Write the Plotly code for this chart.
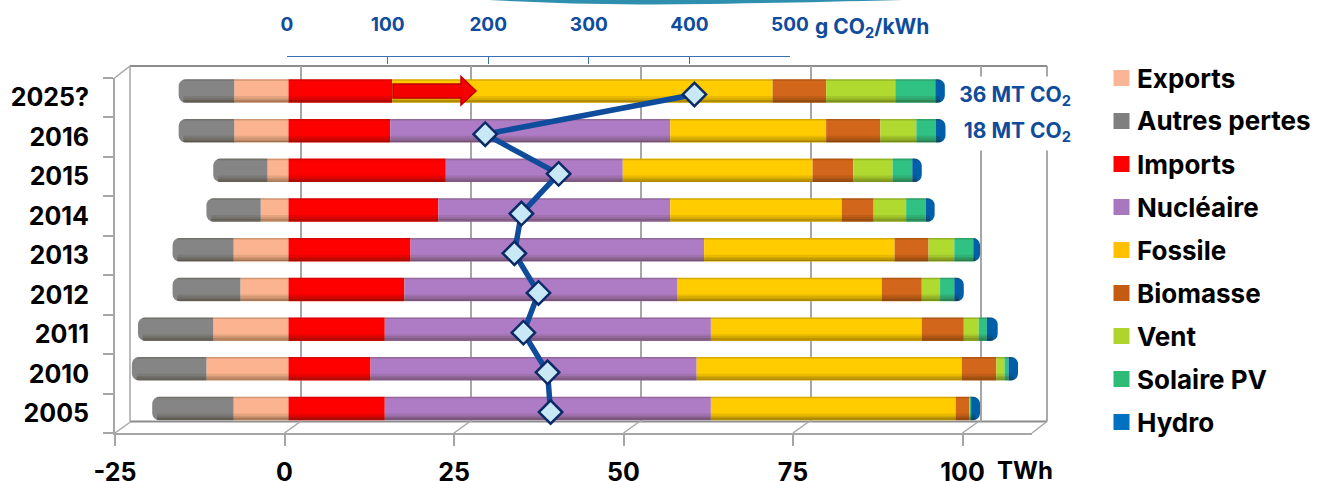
import plotly.graph_objects as go

W, H = 1317, 481
years = ["2005", "2010", "2011", "2012", "2013", "2014", "2015", "2016", "2025?"]
exports = [8.1, 12.1, 11.1, 7.1, 8.1, 4.1, 3.1, 8.0, 8.0]
autres_pertes = [12.0, 11.0, 11.1, 10.0, 9.0, 8.0, 8.0, 8.2, 8.2]
imports_ = [14.2, 12.1, 14.2, 17.1, 18.0, 22.1, 23.2, 15.0, 15.3]
nucleaire = [48.1, 48.1, 48.1, 40.2, 43.3, 34.2, 26.1, 41.3, 0.0]
fossile = [36.1, 39.1, 31.1, 30.2, 28.1, 25.3, 28.0, 23.0, 56.1]
biomasse = [2.0, 5.1, 6.2, 5.9, 5.0, 4.7, 6.0, 8.0, 7.9]
vent = [0.2, 1.2, 2.2, 2.7, 3.8, 4.8, 5.8, 5.3, 10.2]
solaire = [0.1, 0.6, 1.2, 2.1, 2.8, 2.9, 2.9, 2.9, 5.9]
hydro = [1.3, 1.4, 1.6, 1.4, 1.0, 1.3, 1.4, 1.4, 1.4]
co2 = [262, 259, 235, 250, 226, 233, 270, 197, 405]
twh_ticks = [-25, 0, 25, 50, 75, 100]
twh_labels = ["-25", "0", "25", "50", "75", "100"]
co2_ticks = [0, 100, 200, 300, 400, 500]
legend_names = ["Exports", "Autres pertes", "Imports", "Nucléaire", "Fossile", "Biomasse", "Vent", "Solaire PV", "Hydro"]
legend_colors = ["#F9B596", "#7F7F7F", "#FF0000", "#A778BE", "#FFC000", "#C55A11", "#AFD42B", "#2EBB78", "#0070C0"]
bar_colors = ["#FBB48F", "#858585", "#FF0000", "#AE7CC4", "#FFCC00", "#D2661A", "#B0DA30", "#30C283", "#005FA8"]

FONT = "Inter"
BLUE = "#0F4C9C"
GRAY = "#A6A6A6"
X_RANGE = [-25, 110.25]


def fx(p):
    return p / W


def fy(p):
    return 1 - p / H


def dom_x(a, b):
    return [fx(a), fx(b)]


def dom_y(top, bottom):
    return [fy(bottom), fy(top)]


fig = go.Figure()
pos = list(range(len(years)))

# back wall grid subplot (first so it lies under the bars)
fig.add_trace(go.Scatter(x=[0], y=[0], mode="markers", marker=dict(opacity=0), xaxis="x", yaxis="y",
                         showlegend=False, hoverinfo="skip"))

# bars
series = [("Exports", [-v for v in exports]), ("Autres pertes", [-v for v in autres_pertes]),
          ("Imports", imports_), ("Nucléaire", nucleaire), ("Fossile", fossile),
          ("Biomasse", biomasse), ("Vent", vent), ("Solaire PV", solaire), ("Hydro", hydro)]
for (name, vals), col in zip(series, bar_colors):
    fig.add_trace(go.Bar(y=pos, x=vals, name=name, orientation="h", width=0.592, marker=dict(color=col, line_width=0),
                         xaxis="x2", yaxis="y2", showlegend=False))

# cylinder shading along each bar, from the bar totals
lefts = [-(a + b) for a, b in zip(exports, autres_pertes)]
rights = [sum(t) for t in zip(imports_, nucleaire, fossile, biomasse, vent, solaire, hydro)]
for off, lw, alpha in [(0.276, 1.5, 0.2), (-0.276, 1.2, 0.38), (-0.245, 1.5, 0.3), (-0.205, 2.0, 0.2), (-0.155, 2.2, 0.1)]:
    xs, ys = [], []
    for p, l, r in zip(pos, lefts, rights):
        xs += [l + 0.7, r - 0.7, None]
        ys += [p + off, p + off, None]
    fig.add_trace(go.Scatter(x=xs, y=ys, mode="lines", line=dict(color=f"rgba(40,30,0,{alpha})", width=lw),
                             xaxis="x2", yaxis="y2", showlegend=False, hoverinfo="skip"))

# CO2 intensity line
fig.add_trace(go.Scatter(x=co2, y=pos, mode="lines+markers", line=dict(color="#0F4C9C", width=5.5),
                         marker=dict(symbol="diamond", size=18, color="#C9E8F6", line=dict(color="#0B2A66", width=2.5)),
                         xaxis="x3", yaxis="y3", showlegend=False))

# front floor axes
fig.add_trace(go.Scatter(x=[0] * len(years), y=years, mode="markers", marker=dict(opacity=0), xaxis="x4", yaxis="y4",
                         showlegend=False, hoverinfo="skip"))

tickf = dict(family=FONT, size=25, color="#000000", weight=700)
fig.update_layout(
    template="none",
    width=W, height=H, autosize=False, margin=dict(l=0, r=0, t=0, b=0, pad=0),
    paper_bgcolor="white", plot_bgcolor="rgba(0,0,0,0)", barmode="relative", barcornerradius=7,
    hovermode=False, showlegend=False,
    xaxis=dict(domain=dom_x(131, 1050.4), range=X_RANGE, anchor="y", tickvals=twh_ticks, showgrid=True, gridcolor=GRAY,
               gridwidth=1.5, showticklabels=False, ticks="", zeroline=False, showline=False, automargin=False),
    yaxis=dict(domain=dom_y(66, 421.5), range=[0, 1], anchor="x", visible=False, automargin=False),
    xaxis2=dict(domain=dom_x(119, 1036), range=X_RANGE, anchor="y2", visible=False, automargin=False),
    yaxis2=dict(domain=dom_y(71.15, 428.35), range=[-0.5, 8.5], anchor="x2", visible=False, automargin=False),
    xaxis3=dict(domain=dom_x(287, 790), range=[0, 500], anchor="free", position=fy(55.5), side="top", tickvals=co2_ticks,
                showgrid=False, zeroline=False, showline=True, linecolor="#3A6FB5", linewidth=1.2, ticks="inside", ticklen=7,
                tickcolor="#3A6FB5", tickwidth=1.2, ticklabelstandoff=17, automargin=False,
                tickfont=dict(family=FONT, size=19, color=BLUE, weight=700)),
    yaxis3=dict(domain=dom_y(74.65, 431.85), range=[-0.5, 8.5], anchor="x3", visible=False, automargin=False),
    xaxis4=dict(domain=dom_x(115, 1032), range=X_RANGE, anchor="y4", tickvals=twh_ticks, ticktext=twh_labels, showgrid=False,
                zeroline=False, showline=True, linecolor=GRAY, linewidth=2, ticks="outside", ticklen=11, tickcolor=GRAY,
                tickwidth=1.5, ticklabelstandoff=5, tickfont=tickf, automargin=False),
    yaxis4=dict(domain=dom_y(78, 433), type="category", categoryorder="array", categoryarray=years, anchor="x4",
                range=[-0.5, 8.5], showgrid=False, zeroline=False, showline=True, linecolor=GRAY, linewidth=2,
                ticks="outside", ticklen=10, tickson="boundaries", tickcolor=GRAY, tickwidth=1.5, ticklabelstandoff=19,
                tickfont=tickf, automargin=False),
)

shapes = []
def line(x0, y0, x1, y1, color=GRAY, w=1.5):
    shapes.append(dict(type="line", xref="paper", yref="paper", x0=fx(x0), y0=fy(y0), x1=fx(x1), y1=fy(y1),
                       line=dict(color=color, width=w), layer="below"))

# wall frame
line(130, 66, 1047, 66, "#8C8C8C", 2)
line(130, 66, 130, 421.5, GRAY, 1.5)
line(1047, 66, 1047, 421.5, "#8C8C8C", 1.5)
line(130, 421.5, 1047, 421.5, "#8C8C8C", 2)
line(114.5, 78, 130, 66)
line(1032, 433, 1047, 421.5)
for t in [-25] + twh_ticks[1:]:
    front = 115 + (t - X_RANGE[0]) / (X_RANGE[1] - X_RANGE[0]) * 917
    line(front, 433, front + 16, 421.5)

# legend
for i, (n, c) in enumerate(zip(legend_names, legend_colors)):
    cy = 78 + 43 * i
    shapes.append(dict(type="rect", xref="paper", yref="paper", x0=fx(1113.5), x1=fx(1129.5), y0=fy(cy - 8), y1=fy(cy + 8),
                       fillcolor=c, line_width=0))

def P(x, y):
    return f"{fx(x):.5f},{fy(y):.5f}"

# red arrow on the 2025 bar
arrow = [(393, 84), (461, 84), (461, 76.5), (476, 91), (461, 105), (461, 98), (393, 98)]
path = "M" + " L".join(P(*q) for q in arrow) + " Z"
shapes.append(dict(type="path", xref="paper", yref="paper", path=path, fillcolor="#F40000", line=dict(color="#C00000", width=1.5)))

# swoosh at the top of the slide
shapes.append(dict(type="path", xref="paper", yref="paper",
                   path=f"M{P(489, 0)} L{P(903, 0)} Q{P(720, 4.5)} {P(640, 4.5)} Q{P(560, 4)} {P(489, 0)} Z",
                   fillcolor="#2F8FAE", line_width=0))
fig.update_layout(shapes=shapes)

ann = []
def text(x, y, s, size, color="#000000", anchor="left", **kw):
    ann.append(dict(xref="paper", yref="paper", x=fx(x), y=fy(y), text=s, showarrow=False, xanchor=anchor, yanchor="middle",
                    font=dict(family=FONT, size=size, color=color, weight=700), **kw))

for i, n in enumerate(legend_names):
    text(1135, 78 + 43 * i, n, 26)
text(995, 470, "TWh", 24)
text(813, 28, "g CO<sub>2</sub>/kWh", 21, BLUE)
text(948, 96, "36 MT CO<sub>2</sub>", 21, BLUE, bgcolor="white", width=122, height=38, align="right", borderpad=0)
text(948, 132, "18 MT CO<sub>2</sub>", 21, BLUE, bgcolor="white", width=122, height=36, align="right", borderpad=0)
fig.update_layout(annotations=ann)

fig.write_html("out.html", config={"displayModeBar": False},
               post_script="document.body.style.margin='0';document.documentElement.style.overflow='hidden';")
